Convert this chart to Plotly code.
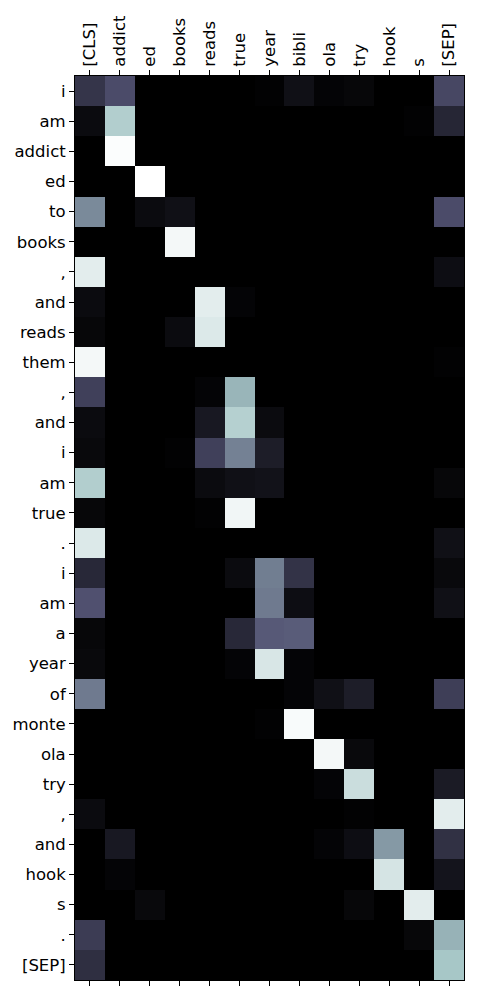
import plotly.graph_objects as go

col_labels = ["[CLS]", "addict", "ed", "books", "reads", "true", "year",
              "bibli", "ola", "try", "hook", "s", "[SEP]"]
row_labels = ["i", "am", "addict", "ed", "to", "books", ",", "and", "reads",
              "them", ",", "and", "i", "am", "true", ".", "i", "am", "a",
              "year", "of", "monte", "ola", "try", ",", "and", "hook", "s",
              ".", "[SEP]"]

# attention weights, one row per query token (columns follow col_labels)
r00 = [0.24, 0.34, 0.00, 0.00, 0.00, 0.00, 0.01, 0.07, 0.02, 0.03, 0.00, 0.00, 0.32]
r01 = [0.05, 0.78, 0.00, 0.00, 0.00, 0.00, 0.00, 0.00, 0.00, 0.00, 0.00, 0.01, 0.17]
r02 = [0.00, 0.99, 0.00, 0.00, 0.00, 0.00, 0.00, 0.00, 0.00, 0.00, 0.00, 0.00, 0.00]
r03 = [0.00, 0.00, 1.00, 0.00, 0.00, 0.00, 0.00, 0.00, 0.00, 0.00, 0.00, 0.00, 0.00]
r04 = [0.55, 0.00, 0.05, 0.07, 0.00, 0.00, 0.00, 0.00, 0.00, 0.00, 0.00, 0.00, 0.34]
r05 = [0.00, 0.00, 0.00, 0.97, 0.00, 0.00, 0.00, 0.00, 0.00, 0.00, 0.00, 0.00, 0.00]
r06 = [0.92, 0.00, 0.00, 0.00, 0.00, 0.00, 0.00, 0.00, 0.00, 0.00, 0.00, 0.00, 0.06]
r07 = [0.05, 0.00, 0.00, 0.00, 0.92, 0.02, 0.00, 0.00, 0.00, 0.00, 0.00, 0.00, 0.00]
r08 = [0.03, 0.00, 0.00, 0.05, 0.90, 0.00, 0.00, 0.00, 0.00, 0.00, 0.00, 0.00, 0.00]
r09 = [0.97, 0.00, 0.00, 0.00, 0.00, 0.00, 0.00, 0.00, 0.00, 0.00, 0.00, 0.00, 0.01]
r10 = [0.29, 0.00, 0.00, 0.00, 0.02, 0.69, 0.00, 0.00, 0.00, 0.00, 0.00, 0.00, 0.00]
r11 = [0.05, 0.00, 0.00, 0.00, 0.11, 0.79, 0.05, 0.00, 0.00, 0.00, 0.00, 0.00, 0.00]
r12 = [0.04, 0.00, 0.00, 0.01, 0.29, 0.52, 0.13, 0.00, 0.00, 0.00, 0.00, 0.00, 0.00]
r13 = [0.78, 0.00, 0.00, 0.00, 0.05, 0.07, 0.08, 0.00, 0.00, 0.00, 0.00, 0.00, 0.03]
r14 = [0.03, 0.00, 0.00, 0.00, 0.01, 0.96, 0.00, 0.00, 0.00, 0.00, 0.00, 0.00, 0.00]
r15 = [0.90, 0.00, 0.00, 0.00, 0.00, 0.00, 0.00, 0.00, 0.00, 0.00, 0.00, 0.00, 0.07]
r16 = [0.18, 0.00, 0.00, 0.00, 0.00, 0.05, 0.51, 0.23, 0.00, 0.00, 0.00, 0.00, 0.04]
r17 = [0.36, 0.00, 0.00, 0.00, 0.00, 0.00, 0.50, 0.06, 0.00, 0.00, 0.00, 0.00, 0.07]
r18 = [0.03, 0.00, 0.00, 0.00, 0.00, 0.18, 0.39, 0.40, 0.00, 0.00, 0.00, 0.00, 0.00]
r19 = [0.04, 0.00, 0.00, 0.00, 0.00, 0.02, 0.89, 0.02, 0.00, 0.00, 0.00, 0.00, 0.00]
r20 = [0.50, 0.00, 0.00, 0.00, 0.00, 0.00, 0.00, 0.02, 0.07, 0.13, 0.00, 0.00, 0.28]
r21 = [0.00, 0.00, 0.00, 0.00, 0.00, 0.00, 0.01, 0.98, 0.00, 0.00, 0.00, 0.00, 0.00]
r22 = [0.00, 0.00, 0.00, 0.00, 0.00, 0.00, 0.00, 0.00, 0.97, 0.04, 0.00, 0.00, 0.00]
r23 = [0.00, 0.00, 0.00, 0.00, 0.00, 0.00, 0.00, 0.00, 0.02, 0.85, 0.00, 0.00, 0.12]
r24 = [0.05, 0.00, 0.00, 0.00, 0.00, 0.00, 0.00, 0.00, 0.00, 0.01, 0.00, 0.00, 0.92]
r25 = [0.00, 0.11, 0.00, 0.00, 0.00, 0.00, 0.00, 0.00, 0.02, 0.06, 0.60, 0.00, 0.22]
r26 = [0.00, 0.02, 0.00, 0.00, 0.00, 0.00, 0.00, 0.00, 0.00, 0.00, 0.88, 0.00, 0.09]
r27 = [0.00, 0.00, 0.04, 0.00, 0.00, 0.00, 0.00, 0.00, 0.00, 0.03, 0.00, 0.92, 0.00]
r28 = [0.27, 0.00, 0.00, 0.00, 0.00, 0.00, 0.00, 0.00, 0.00, 0.00, 0.00, 0.03, 0.68]
r29 = [0.21, 0.00, 0.00, 0.00, 0.00, 0.00, 0.00, 0.00, 0.00, 0.00, 0.00, 0.00, 0.75]

values = [r00, r01, r02, r03, r04, r05, r06, r07, r08, r09, r10, r11, r12, r13,
          r14, r15, r16, r17, r18, r19, r20, r21, r22, r23, r24, r25, r26, r27,
          r28, r29]

# matplotlib "bone" colormap
bone = [
    [0.0, "rgb(0,0,0)"],
    [0.365079, "rgb(81,81,113)"],
    [0.746032, "rgb(166,198,198)"],
    [1.0, "rgb(255,255,255)"],
]

xs = list(range(len(col_labels)))
ys = list(range(len(row_labels)))

fig = go.Figure(go.Heatmap(
    z=values, x=xs, y=ys, colorscale=bone, zmin=0, zmax=1,
    showscale=False, xgap=0, ygap=0,
))

font = dict(family="DejaVu Sans", size=16.5, color="black")

fig.update_layout(
    width=500, height=1000,
    margin=dict(l=72, r=36, t=76, b=20, pad=0),
    paper_bgcolor="white", plot_bgcolor="white",
    font=font,
    xaxis=dict(
        side="top", range=[-0.5, len(col_labels) - 0.5],
        tickvals=xs, ticktext=col_labels, tickangle=-90,
        ticks="outside", ticklen=5, tickcolor="black", tickwidth=1,
        showline=True, linecolor="black", linewidth=1, mirror="ticks",
        showgrid=False, zeroline=False, tickfont=font,
    ),
    yaxis=dict(
        range=[len(row_labels) - 0.5, -0.5],
        tickvals=ys, ticktext=row_labels,
        ticks="outside", ticklen=5, tickcolor="black", tickwidth=1,
        showline=True, linecolor="black", linewidth=1, mirror=True,
        showgrid=False, zeroline=False, tickfont=font,
    ),
)

fig.write_html("out.html")
